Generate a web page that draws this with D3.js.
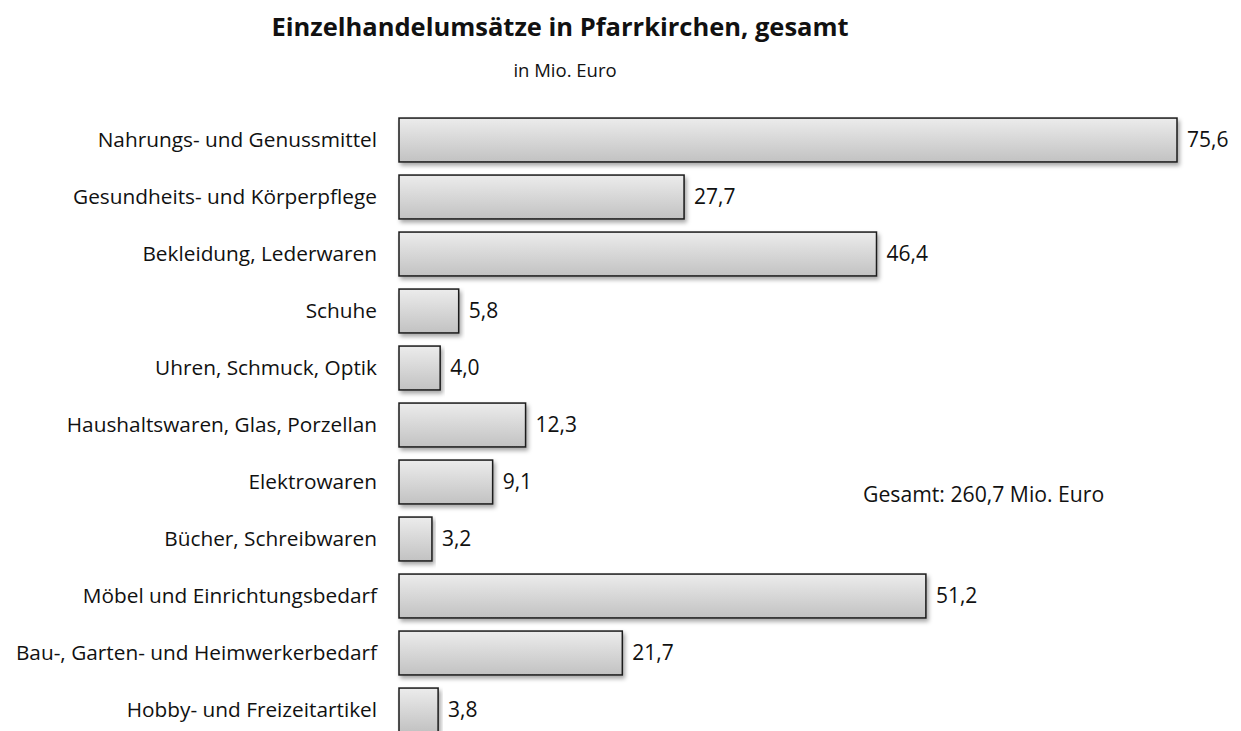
<!DOCTYPE html>
<html>
<head>
<meta charset="utf-8">
<script src="https://cdn.jsdelivr.net/npm/d3@7"></script>
<style>
  html, body { margin: 0; padding: 0; background: #fff; }
  svg { display: block; }
  text { font-family: "Open Sans", Lato, sans-serif; fill: #111; }
</style>
</head>
<body>
<svg id="chart" width="1241" height="731"></svg>
<script>
const categories = [
  "Nahrungs- und Genussmittel",
  "Gesundheits- und Körperpflege",
  "Bekleidung, Lederwaren",
  "Schuhe",
  "Uhren, Schmuck, Optik",
  "Haushaltswaren, Glas, Porzellan",
  "Elektrowaren",
  "Bücher, Schreibwaren",
  "Möbel und Einrichtungsbedarf",
  "Bau-, Garten- und Heimwerkerbedarf",
  "Hobby- und Freizeitartikel"
];
const values = [75.6, 27.7, 46.4, 5.8, 4.0, 12.3, 9.1, 3.2, 51.2, 21.7, 3.8];
const title = "Einzelhandelumsätze in Pfarrkirchen, gesamt";
const subtitle = "in Mio. Euro";
const totalNote = "Gesamt: 260,7 Mio. Euro";

const svg = d3.select("#chart");
const defs = svg.append("defs");
const grad = defs.append("linearGradient").attr("id", "barGrad")
  .attr("x1", 0).attr("y1", 0).attr("x2", 0).attr("y2", 1);
grad.append("stop").attr("offset", "0%").attr("stop-color", "#ececec");
grad.append("stop").attr("offset", "100%").attr("stop-color", "#c2c2c2");
const filt = defs.append("filter").attr("id", "shadow")
  .attr("x", "-5%").attr("y", "-20%").attr("width", "115%").attr("height", "160%");
filt.append("feDropShadow").attr("dx", 2).attr("dy", 3).attr("stdDeviation", 2)
  .attr("flood-color", "#000").attr("flood-opacity", 0.35);

const x = d3.scaleLinear().domain([0, 75.6]).range([399, 1177]);
const y = d3.scaleBand().domain(categories).range([111.5, 738.5]).paddingInner(0.23).paddingOuter(0.115);

svg.append("text").attr("x", 560).attr("y", 36).attr("text-anchor", "middle")
  .style("font-size", "25.5px").style("font-weight", "bold").text(title);
svg.append("text").attr("x", 565).attr("y", 77).attr("text-anchor", "middle")
  .style("font-size", "18.5px").text(subtitle);

const g = svg.append("g");
g.selectAll("rect.bar").data(values).join("rect")
  .attr("class", "bar")
  .attr("x", x(0))
  .attr("y", (d, i) => y(categories[i]))
  .attr("width", d => x(d) - x(0))
  .attr("height", y.bandwidth())
  .attr("fill", "url(#barGrad)")
  .attr("stroke", "#1a1a1a")
  .attr("stroke-width", 1.5)
  .attr("filter", "url(#shadow)");

g.selectAll("text.val").data(values).join("text")
  .attr("class", "val")
  .attr("x", d => x(d) + 10)
  .attr("y", (d, i) => y(categories[i]) + y.bandwidth() / 2)
  .attr("dy", "0.35em")
  .style("font-size", "21px")
  .text(d => d3.format(".1f")(d).replace(".", ","));

const yAxis = d3.axisLeft(y).tickSize(0).tickPadding(22);
const ax = svg.append("g").attr("transform", `translate(${x(0)},0)`).call(yAxis);
ax.select(".domain").remove();
ax.selectAll("text").style("font-size", "20.8px").style("font-family", "'Open Sans', Lato, sans-serif").attr("fill", "#111");

svg.append("text").attr("x", 863).attr("y", 495).attr("dy", "0.35em")
  .style("font-size", "21.2px").text(totalNote);
</script>
</body>
</html>
